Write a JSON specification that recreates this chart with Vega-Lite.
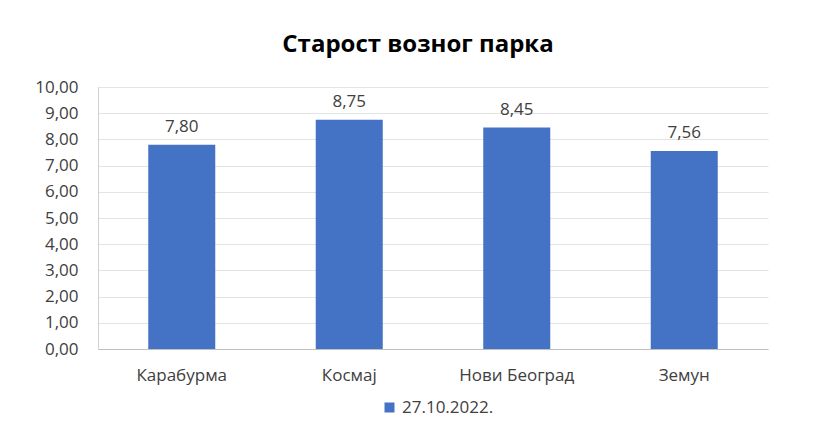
{
  "$schema": "https://vega.github.io/schema/vega-lite/v6.json",
  "width": 670,
  "height": 262,
  "autosize": {"type": "none"},
  "padding": {"left": 98, "top": 87, "right": 48, "bottom": 85},
  "background": "white",
  "title": {
    "text": "Старост возног парка",
    "font": "Open Sans",
    "fontSize": 24,
    "fontWeight": "bold",
    "color": "#000000",
    "anchor": "middle",
    "dx": -15,
    "offset": 21
  },
  "data": {
    "values": [
      {"lokacija": "Карабурма", "starost": 7.80, "serija": "27.10.2022."},
      {"lokacija": "Космај", "starost": 8.75, "serija": "27.10.2022."},
      {"lokacija": "Нови Београд", "starost": 8.45, "serija": "27.10.2022."},
      {"lokacija": "Земун", "starost": 7.56, "serija": "27.10.2022."}
    ]
  },
  "encoding": {
    "x": {
      "field": "lokacija",
      "type": "nominal",
      "sort": null,
      "scale": {"paddingInner": 0.6, "paddingOuter": 0.3},
      "axis": {
        "title": null,
        "labelAngle": 0,
        "labelFont": "Open Sans",
        "labelFontSize": 17,
        "labelColor": "#404040",
        "labelPadding": 18,
        "ticks": false,
        "domainColor": "#BFBFBF",
        "grid": false
      }
    },
    "y": {
      "field": "starost",
      "type": "quantitative",
      "scale": {"domain": [0, 10]},
      "axis": {
        "title": null,
        "values": [0, 1, 2, 3, 4, 5, 6, 7, 8, 9, 10],
        "labelExpr": "replace(format(datum.value, '.2f'), '.', ',')",
        "labelFont": "Open Sans",
        "labelFontSize": 17,
        "labelColor": "#404040",
        "labelPadding": 20,
        "ticks": false,
        "domainColor": "#D0D0D0",
        "gridColor": "#E3E3E3",
        "gridWidth": 1
      }
    }
  },
  "layer": [
    {
      "mark": {"type": "bar", "color": "#4472C4"},
      "encoding": {
        "color": {
          "field": "serija",
          "type": "nominal",
          "scale": {"range": ["#4472C4"]},
          "legend": {
            "title": null,
            "orient": "none",
            "legendX": 283,
            "legendY": 312,
            "symbolType": "square",
            "symbolSize": 100,
            "symbolStrokeWidth": 0,
            "labelFont": "Open Sans",
            "labelFontSize": 17,
            "labelColor": "#404040",
            "labelOffset": 4
          }
        }
      }
    },
    {
      "mark": {"type": "text", "dy": -18, "font": "Open Sans", "fontSize": 17, "color": "#404040"},
      "encoding": {
        "text": {"field": "starost", "type": "quantitative", "format": ".2f", "formatType": "number"}
      }
    }
  ],
  "config": {"view": {"stroke": null}, "locale": {"number": {"decimal": ",", "thousands": ".", "grouping": [3], "currency": ["", " дин."]}}}
}
